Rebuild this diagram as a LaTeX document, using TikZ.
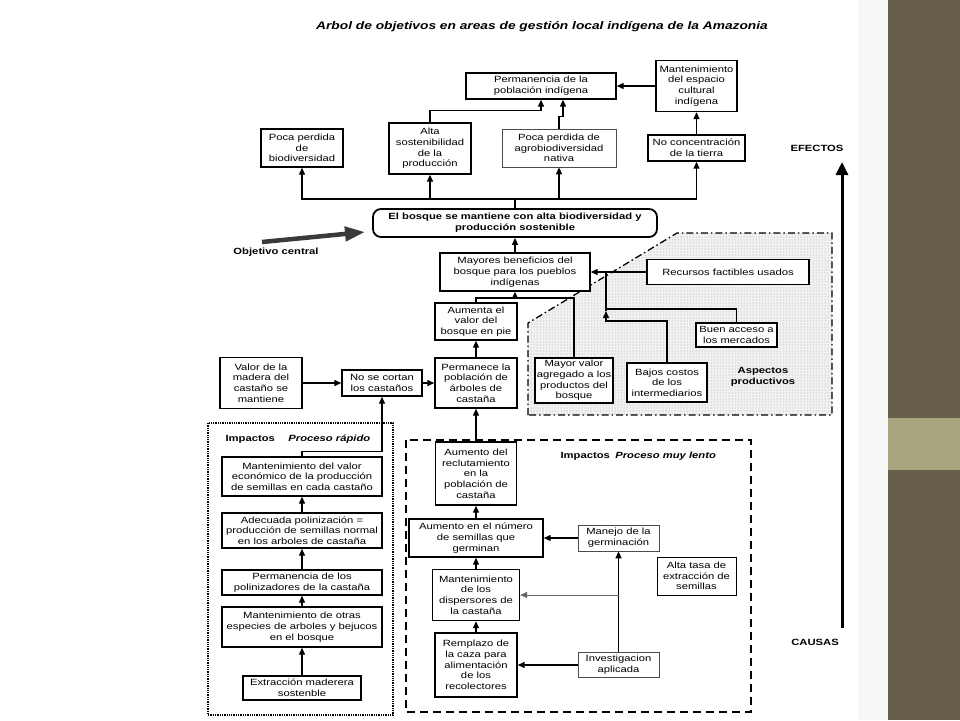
\documentclass[tikz,border=0pt]{standalone}
\usepackage{fontspec}
\setmainfont{Liberation Sans}[FakeStretch=1.25]
\usepackage{xcolor}
\usetikzlibrary{arrows.meta, positioning, shapes, calc, patterns}
\definecolor{sidedark}{HTML}{665E48}
\definecolor{sidelight}{HTML}{A8A47E}
\definecolor{arrowgray}{HTML}{3A3A3A}

\begin{document}
\begin{tikzpicture}[
    x=1pt, y=-1pt,
    every node/.style={font=\fontsize{9}{10.7}\selectfont, align=center},
    goal/.style={rectangle, draw=black, line width=1.4pt, fill=white, inner sep=0.5pt},
    softgoal/.style={goal, draw=black!70, line width=0.7pt},
    boldtext/.style={font=\fontsize{9}{10.7}\selectfont\bfseries},
    link/.style={line width=1.3pt},
    arrow/.style={link, -{Triangle[length=7pt, width=6pt]}},
    thinarrow/.style={arrow, line width=0.6pt, draw=black!60}
]

% --- Background ---
\useasboundingbox (0,0) rectangle (960,720);
\fill[white] (0,0) rectangle (960,720);
\fill[gray!7] (858,0) rectangle (888,720);
\fill[sidedark] (888,0) rectangle (960,720);
\fill[sidelight] (888,418) rectangle (960,470);

% --- Areas ---
\fill[gray!10] (528,415) -- (528,323) -- (677,233) -- (832,233) -- (832,415) -- cycle;
\fill[pattern=dots, pattern color=gray!80] (528,415) -- (528,323) -- (677,233) -- (832,233) -- (832,415) -- cycle;
\draw[line width=1.3pt, dash pattern=on 7pt off 3pt on 1.5pt off 3pt]
  (528,415) -- (528,323) -- (677,233) -- (832,233) -- (832,415) -- cycle;
\draw[line width=1.3pt, densely dotted] (208,423) rectangle (393,715);
\draw[line width=1.5pt, dash pattern=on 8pt off 5pt] (406,440) rectangle (751,712);

% --- Title and labels ---
\node[font=\fontsize{11}{13}\selectfont\bfseries\itshape] (title) at (542,27)
  {Arbol de objetivos en areas de gestión local indígena de la Amazonia};
\node[boldtext] (efectos) at (817,148) {EFECTOS};
\node[boldtext] (causas) at (815,642) {CAUSAS};
\node[boldtext] (objlabel) at (276,252) {Objetivo central};
\node[boldtext] (aspectos) at (763,377) {Aspectos\\productivos};
\node[boldtext, anchor=west] (rapido) at (222,439) {Impactos\hspace{1.5em}\textit{Proceso rápido}};
\node[boldtext, anchor=west] (lento) at (557,456) {Impactos\hspace{0.6em}\textit{Proceso muy lento}};

% --- Effects ---
\node[goal, minimum width=150, minimum height=26] (perm) at (541,86) {Permanencia de la\\población indígena};
\node[goal, minimum width=81, minimum height=51] (espacio) at (696.5,86) {Mantenimiento\\del espacio\\cultural\\indígena};
\node[goal, minimum width=82, minimum height=38] (pocabio) at (302,148) {Poca perdida\\de\\biodiversidad};
\node[goal, minimum width=82, minimum height=51] (alta) at (430,148.5) {Alta\\sostenibilidad\\de la\\producción};
\node[softgoal, minimum width=114, minimum height=38] (agro) at (559,148) {Poca perdida de\\agrobiodiversidad\\nativa};
\node[goal, minimum width=97, minimum height=26] (noconc) at (696.5,148) {No concentración\\de la tierra};

% --- Central objective ---
\node[goal, rounded corners=8pt, line width=1.8pt, minimum width=284, minimum height=28,
      font=\fontsize{9}{10.7}\selectfont\bfseries] (central) at (515,223)
  {El bosque se mantiene con alta biodiversidad y\\producción sostenible};

% --- Causes ---
\node[goal, minimum width=150, minimum height=38] (mayores) at (515,272) {Mayores beneficios del\\bosque para los pueblos\\indígenas};
\node[goal, minimum width=82, minimum height=37] (aumenta) at (476,321.5) {Aumenta el\\valor del\\bosque en pie};
\node[goal, minimum width=82, minimum height=50] (permanece) at (476,383) {Permanece la\\población de\\árboles de\\castaña};
\node[goal, minimum width=80, minimum height=26] (nocortan) at (382,383) {No se cortan\\los castaños};
\node[goal, minimum width=82, minimum height=51] (valor) at (261,383) {Valor de la\\madera del\\castaño se\\mantiene};
\node[goal, minimum width=162, minimum height=25] (recursos) at (728,272) {Recursos factibles usados};
\node[goal, minimum width=81, minimum height=24] (buen) at (736.5,335) {Buen acceso a\\los mercados};
\node[goal, minimum width=78, minimum height=45] (mayorvalor) at (574,380.5) {Mayor valor\\agregado a los\\productos del\\bosque};
\node[goal, minimum width=80, minimum height=39] (bajos) at (667,382.5) {Bajos costos\\de los\\intermediarios};

% --- Fast process ---
\node[goal, minimum width=160, minimum height=39] (mval) at (302,476.5) {Mantenimiento del valor\\económico de la producción\\de semillas en cada castaño};
\node[goal, minimum width=160, minimum height=35] (adecuada) at (302,530.5) {Adecuada polinización =\\producción de semillas normal\\en los arboles de castaña};
\node[goal, minimum width=160, minimum height=25] (perpol) at (302,582.5) {Permanencia de los\\polinizadores de la castaña};
\node[goal, minimum width=160, minimum height=40] (otras) at (302,627) {Mantenimiento de otras\\especies de arboles y bejucos\\en el bosque};
\node[goal, minimum width=118, minimum height=24] (extraccion) at (302,688) {Extracción maderera\\sostenble};

% --- Slow process ---
\node[goal, minimum width=81, minimum height=63] (recl) at (476,473.5) {Aumento del\\reclutamiento\\en la\\población de\\castaña};
\node[goal, minimum width=134, minimum height=38] (numero) at (476,538) {Aumento en el número\\de semillas que\\germinan};
\node[softgoal, minimum width=81, minimum height=26] (manejo) at (618.5,538) {Manejo de la\\germinación};
\node[softgoal, draw=black, line width=0.9pt, minimum width=79, minimum height=38] (altatasa) at (696.5,576) {Alta tasa de\\extracción de\\semillas};
\node[goal, minimum width=87, minimum height=51] (dispers) at (476,595) {Mantenimiento\\de los\\dispersores de\\la castaña};
\node[goal, minimum width=82, minimum height=64] (remplazo) at (476,665) {Remplazo de\\la caza para\\alimentación\\de los\\recolectores};
\node[softgoal, minimum width=81, minimum height=25] (invest) at (618.5,665) {Investigacion\\aplicada};

% --- Coordinates ---
\coordinate (hub) at (515,199);
\coordinate (mjoin) at (515,298);
\coordinate (rjoin) at (606,272);
\coordinate (bmeet) at (606,309);
\coordinate (bjoin) at (606,321);
\coordinate (btip) at (606,311);
\coordinate (ijoin) at (618.5,595);
\coordinate (objtail) at (262,242);
\coordinate (objtip) at (365,232);
\coordinate (causebase) at (842,628);
\coordinate (effecttop) at (842,162);

% --- Arrows: effects ---
\draw[link] (central.north) -- (hub);
\foreach \n in {pocabio, alta, agro, noconc}
  \draw[arrow] (hub) -| (\n.south);
\draw[arrow] (alta.north) -- ++(0,-12) -| (perm.south);
\draw[arrow] (agro.north) -- ++(0,-12) -- ++(4,0) -- ([xshift=22]perm.south);
\draw[arrow] (espacio.west) -- (perm.east);
\draw[arrow] (noconc.north) -- (espacio.south);

% --- Arrows: causes ---
\draw[arrow] (mayores.north) -- (central.south);
\draw[link] (aumenta.north) |- (mjoin);
\draw[link] (mayorvalor.north) |- (mjoin);
\draw[arrow] (mjoin) -- (mayores.south);
\draw[arrow] (permanece.north) -- (aumenta.south);
\draw[arrow] (nocortan.east) -- (permanece.west);
\draw[arrow] (valor.east) -- (nocortan.west);
\draw[arrow] (recursos.west) -- (mayores.east);
\draw[link] (buen.north) |- (bmeet);
\draw[arrow] (bajos.north) |- (bjoin) -- (btip);
\draw[link] (btip) -- (rjoin);

% --- Arrows: fast process ---
\draw[arrow] (extraccion.north) -- (otras.south);
\draw[arrow] (otras.north) -- (perpol.south);
\draw[arrow] (perpol.north) -- (adecuada.south);
\draw[arrow] (adecuada.north) -- (mval.south);
\draw[arrow] (mval.north) -- ++(0,-5) -| (nocortan.south);

% --- Arrows: slow process ---
\draw[arrow] (recl.north) -- (permanece.south);
\draw[arrow] (numero.north) -- (recl.south);
\draw[arrow] (dispers.north) -- (numero.south);
\draw[arrow] (remplazo.north) -- (dispers.south);
\draw[arrow] (manejo.west) -- (numero.east);
\draw[arrow] (invest.west) -- (remplazo.east);
\draw[arrow] (invest.north) -- (manejo.south);
\draw[thinarrow] (ijoin) -- (dispers.east);

% --- Big arrows ---
\draw[line width=4.5pt, arrowgray, -{Triangle[length=20pt, width=14pt]}] (objtail) -- (objtip);
\draw[line width=3pt, -{Triangle[length=13pt, width=12pt]}] (causebase) -- (effecttop);

\end{tikzpicture}
\end{document}
